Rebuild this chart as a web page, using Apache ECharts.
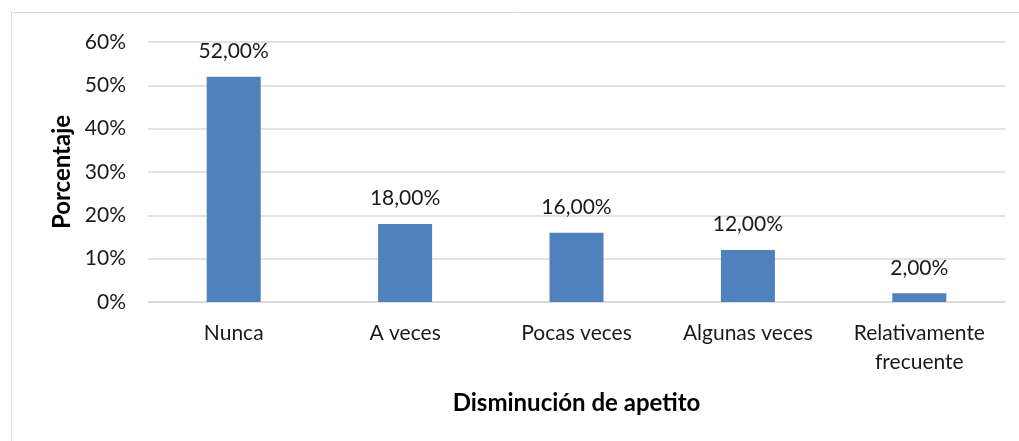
<!DOCTYPE html>
<html>
<head>
<meta charset="utf-8">
<script src="https://cdn.jsdelivr.net/npm/echarts@6/dist/echarts.min.js"></script>
<style>
  html, body { margin: 0; padding: 0; background: #fff; }
  #chart { width: 1019px; height: 441px; }
</style>
</head>
<body>
<div id="chart"></div>
<script>
// datos
const categories = ['Nunca', 'A veces', 'Pocas veces', 'Algunas veces', 'Relativamente\nfrecuente'];
const percentages = [52, 18, 16, 12, 2];
const yTicks = [0, 10, 20, 30, 40, 50, 60];

const chart = echarts.init(document.getElementById('chart'));
const font = 'Lato, "Open Sans", sans-serif';

chart.setOption({
  animation: false,
  graphic: [{
    type: 'rect',
    shape: { x: 11.5, y: 12.5, width: 1100, height: 500 },
    style: { fill: 'none', stroke: '#d9d9d9', lineWidth: 1 },
    silent: true
  }],
  grid: { left: 148, right: 14, top: 42, bottom: 139 },
  xAxis: {
    type: 'category',
    data: categories,
    name: 'Disminución de apetito',
    nameLocation: 'middle',
    nameGap: 89,
    nameTextStyle: { fontFamily: font, fontWeight: 'bold', fontSize: 24, color: '#000' },
    axisLine: { lineStyle: { color: '#d9d9d9', width: 1.5 } },
    axisTick: { show: false },
    axisLabel: { fontFamily: font, fontSize: 21, color: '#1a1a1a', margin: 17, lineHeight: 29, interval: 0 }
  },
  yAxis: {
    type: 'value',
    min: yTicks[0],
    max: yTicks[yTicks.length - 1],
    interval: 10,
    name: 'Porcentaje',
    nameLocation: 'middle',
    nameRotate: 90,
    nameGap: 74,
    nameTextStyle: { fontFamily: font, fontWeight: 'bold', fontSize: 24, color: '#000' },
    axisLine: { show: false },
    axisTick: { show: false },
    splitLine: { lineStyle: { color: '#d9d9d9', width: 1.5 } },
    axisLabel: { fontFamily: font, fontSize: 21, color: '#1a1a1a', margin: 22, formatter: v => v + '%' }
  },
  series: [{
    type: 'bar',
    data: percentages,
    barWidth: '31.5%',
    itemStyle: { color: '#4f81bd' },
    label: {
      show: true,
      position: 'top',
      distance: 15,
      fontFamily: font,
      fontSize: 21,
      color: '#1a1a1a',
      formatter: p => p.value.toFixed(2).replace('.', ',') + '%'
    }
  }]
});
</script>
</body>
</html>
